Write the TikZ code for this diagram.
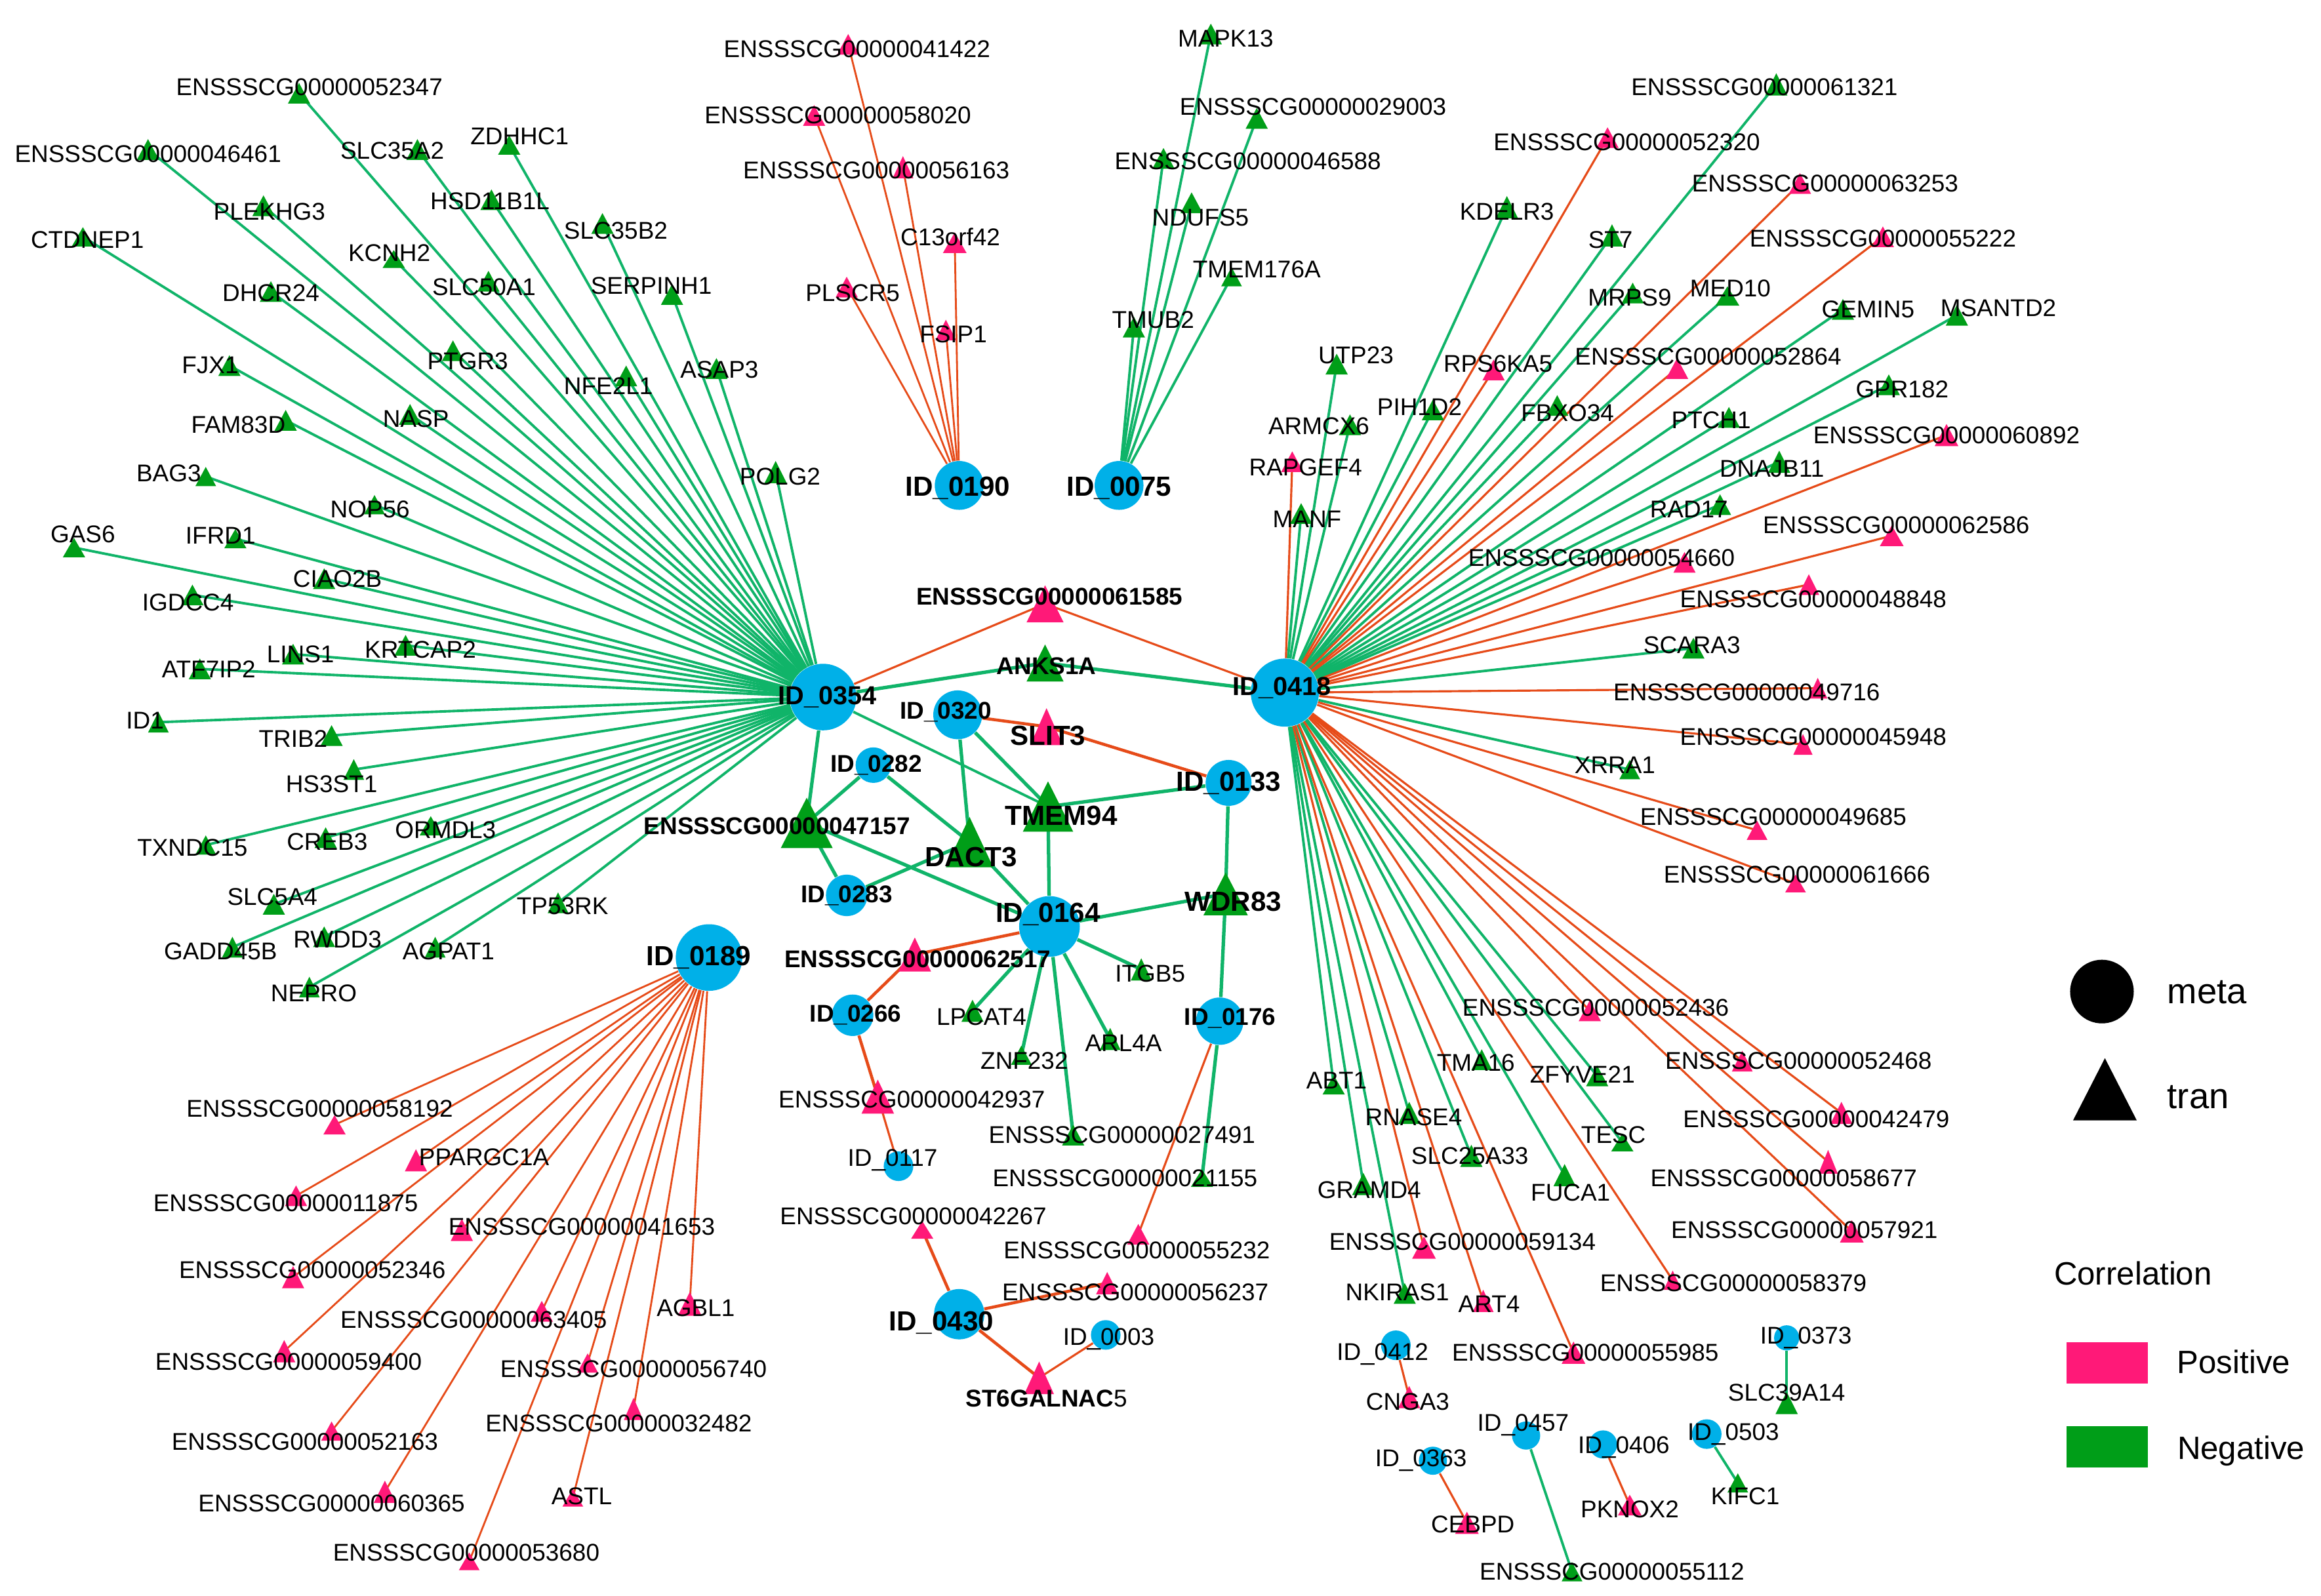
\documentclass[tikz,border=0pt]{standalone}
\usepackage{fontspec}
\setmainfont{Liberation Sans}
\pgfdeclarelayer{bg}
\pgfdeclarelayer{edges}
\pgfdeclarelayer{labels}
\pgfsetlayers{bg,edges,main,labels}
\definecolor{tg}{RGB}{0,158,24}
\definecolor{tp}{RGB}{255,25,120}
\definecolor{eg}{RGB}{16,180,105}
\definecolor{er}{RGB}{230,75,25}
\definecolor{mb}{RGB}{0,176,232}
\newcommand\myunit{0.02257cm}
\newcommand\myBigB{\fontsize{12}{14}\selectfont\bfseries}
\newcommand\myHubB{\fontsize{11.3}{13}\selectfont\bfseries}
\newcommand\myMidB{\fontsize{10.5}{12}\selectfont\bfseries}
% triangle node: name, x, y, w, h, colour, label x, label y, text
\newcommand\T[9]{%
  \coordinate (#1) at (#2,#3);
  \fill[#6] ({#2-#4/2},{#3+#5/2}) -- ({#2+#4/2},{#3+#5/2}) -- ({#2},{#3-#5/2}) -- cycle;
  \begin{pgfonlayer}{labels}\node[lab] (#1-l) at (#7,#8) {#9};\end{pgfonlayer}}
% metabolite node: name, x, y, diameter, label x, label y, text
\newcommand\M[7]{%
  \node[metaN, minimum size={#4*\myunit}] (#1) at (#2,#3) {};
  \begin{pgfonlayer}{labels}\node[lab] (#1-l) at (#5,#6) {#7};\end{pgfonlayer}}
\begin{document}
\begin{tikzpicture}[x=0.02257cm, y=-0.02257cm,
  lab/.style={font=\fontsize{10.5}{12}\selectfont, inner sep=0pt},
  metaN/.style={circle, fill=mb, inner sep=0pt},
  gE/.style={draw=eg, line width=1.1pt},
  rE/.style={draw=er, line width=0.9pt},
  gEt/.style={draw=eg, line width=1.5pt},
  rEt/.style={draw=er, line width=1.3pt},
  legtxt/.style={font=\fontsize{14}{16}\selectfont, inner sep=0pt, anchor=base},
  legtxtb/.style={font=\fontsize{15.5}{17}\selectfont, inner sep=0pt, anchor=base}]
\useasboundingbox (0,0) rectangle (1568,1078);
\begin{pgfonlayer}{bg}
\fill[white] (0,0) rectangle (1568,1078);
\end{pgfonlayer}

% ---------- metabolites ----------
\M{m354}{556}{471}{45}{559}{471}{\myHubB ID\_0354}
\M{m418}{868}{468}{46}{866}{465}{\myHubB ID\_0418}
\M{m189}{479}{647}{45}{472}{647}{\myBigB ID\_0189}
\M{m190}{648}{328}{33}{647}{330}{\myBigB ID\_0190}
\M{m075}{756}{328}{33}{756}{330}{\myBigB ID\_0075}
\M{m320}{647}{483}{33}{639}{481}{\myMidB ID\_0320}
\M{m282}{590}{517}{24}{592}{517}{\myMidB ID\_0282}
\M{m283}{572}{605}{28}{572}{605}{\myMidB ID\_0283}
\M{m164}{709}{626}{41}{708}{618}{\myBigB ID\_0164}
\M{m133}{830}{529}{31}{830}{529}{\myBigB ID\_0133}
\M{m176}{824}{690}{32}{831}{688}{\myMidB ID\_0176}
\M{m266}{576}{686}{28}{578}{686}{\myMidB ID\_0266}
\M{m117}{607}{788}{20}{603}{784}{ID\_0117}
\M{m430}{648}{888}{34}{636}{894}{\myBigB ID\_0430}
\M{m003}{747}{902}{20}{749}{905}{ID\_0003}
\M{m412}{943}{909}{20}{934}{915}{ID\_0412}
\M{m457}{1031}{970}{19}{1029}{963}{ID\_0457}
\M{m406}{1083}{976}{19}{1097}{978}{ID\_0406}
\M{m363}{968}{987}{19}{960}{987}{ID\_0363}
\M{m373}{1207}{904}{17}{1220}{904}{ID\_0373}
\M{m503}{1153}{969}{20}{1171}{969}{ID\_0503}

% ---------- ID_0354 targets ----------
\T{e52347}{202}{63}{15}{14}{tg}{209}{59}{ENSSSCG00000052347}
\T{e46461}{100}{101}{15}{14}{tg}{100}{104}{ENSSSCG00000046461}
\T{slc35a2}{282}{101}{15}{14}{tg}{265}{102}{SLC35A2}
\T{zdhhc1}{344}{98}{15}{13}{tg}{351}{92}{ZDHHC1}
\T{plekhg3}{178}{139}{15}{14}{tg}{182}{143}{PLEKHG3}
\T{hsd11b1l}{332}{135}{15}{14}{tg}{331}{136}{HSD11B1L}
\T{ctdnep1}{56}{160}{15}{13}{tg}{59}{162}{CTDNEP1}
\T{kcnh2}{266}{175}{15}{12}{tg}{263}{171}{KCNH2}
\T{slc50a1}{330}{190}{15}{14}{tg}{327}{194}{SLC50A1}
\T{dhcr24}{183}{197}{15}{14}{tg}{183}{198}{DHCR24}
\T{fjx1}{155}{247}{15}{14}{tg}{142}{247}{FJX1}
\T{ptgr3}{306}{237}{15}{14}{tg}{316}{244}{PTGR3}
\T{fam83d}{193}{284}{15}{14}{tg}{161}{287}{FAM83D}
\T{nasp}{277}{280}{15}{14}{tg}{281}{283}{NASP}
\T{bag3}{139}{322}{14}{13}{tg}{114}{320}{BAG3}
\T{nop56}{253}{341}{14}{13}{tg}{250}{344}{NOP56}
\T{gas6}{50}{370}{15}{13}{tg}{56}{361}{GAS6}
\T{ifrd1}{159}{364}{15}{13}{tg}{149}{362}{IFRD1}
\T{ciao2b}{219}{391}{15}{14}{tg}{228}{391}{CIAO2B}
\T{igdcc4}{130}{402}{15}{14}{tg}{127}{407}{IGDCC4}
\T{krtcap2}{274}{436}{15}{14}{tg}{284}{439}{KRTCAP2}
\T{lins1}{198}{442}{15}{14}{tg}{203}{442}{LINS1}
\T{atf7ip2}{135}{452}{15}{14}{tg}{141}{452}{ATF7IP2}
\T{id1}{107}{488}{14}{14}{tg}{98}{487}{ID1}
\T{trib2}{224}{497}{15}{14}{tg}{198}{499}{TRIB2}
\T{hs3st1}{239}{520}{14}{14}{tg}{224}{530}{HS3ST1}
\T{ormdl3}{291}{558}{15}{13}{tg}{301}{561}{ORMDL3}
\T{txndc15}{139}{571}{14}{13}{tg}{130}{573}{TXNDC15}
\T{creb3}{220}{566}{15}{14}{tg}{221}{569}{CREB3}
\T{slc5a4}{185}{611}{15}{14}{tg}{184}{606}{SLC5A4}
\T{tp53rk}{377}{610}{14}{14}{tg}{380}{612}{TP53RK}
\T{gadd45b}{157}{640}{14}{14}{tg}{149}{643}{GADD45B}
\T{rwdd3}{219}{633}{15}{14}{tg}{228}{635}{RWDD3}
\T{agpat1}{294}{640}{14}{14}{tg}{303}{643}{AGPAT1}
\T{nepro}{209}{667}{14}{14}{tg}{212}{671}{NEPRO}
\T{slc35b2}{407}{151}{15}{14}{tg}{416}{156}{SLC35B2}
\T{serpinh1}{454}{199}{15}{14}{tg}{440}{193}{SERPINH1}
\T{asap3}{484}{249}{15}{14}{tg}{486}{250}{ASAP3}
\T{nfe2l1}{423}{254}{15}{14}{tg}{411}{261}{NFE2L1}
\T{polg2}{524}{319}{15}{15}{tg}{527}{322}{POLG2}

% ---------- ID_0190 targets ----------
\T{e41422}{573}{30}{15}{14}{tp}{579}{33}{ENSSSCG00000041422}
\T{e58020}{550}{78}{15}{14}{tp}{566}{78}{ENSSSCG00000058020}
\T{e56163}{610}{113}{14}{15}{tp}{592}{115}{ENSSSCG00000056163}
\T{c13orf42}{645}{164}{16}{14}{tp}{642}{160}{C13orf42}
\T{plscr5}{572}{194}{15}{14}{tp}{576}{198}{PLSCR5}
\T{fsip1}{639}{223}{14}{14}{tp}{644}{226}{FSIP1}

% ---------- ID_0075 targets ----------
\T{mapk13}{818}{23}{15}{14}{tg}{828}{26}{MAPK13}
\T{e29003}{849}{80}{15}{14}{tg}{887}{72}{ENSSSCG00000029003}
\T{e46588}{786}{107}{15}{14}{tg}{843}{109}{ENSSSCG00000046588}
\T{ndufs5}{805}{137}{15}{14}{tg}{811}{147}{NDUFS5}
\T{tmem176a}{832}{187}{14}{13}{tg}{849}{182}{TMEM176A}
\T{tmub2}{766}{221}{15}{14}{tg}{779}{216}{TMUB2}

% ---------- ID_0418 targets (upper) ----------
\T{e52320}{1086}{93}{15}{14}{tp}{1099}{96}{ENSSSCG00000052320}
\T{kdelr3}{1018}{140}{15}{15}{tg}{1018}{143}{KDELR3}
\T{st7}{1089}{159}{15}{15}{tg}{1088}{162}{ST7}
\T{e61321}{1200}{57}{15}{15}{tg}{1192}{59}{ENSSSCG00000061321}
\T{e63253}{1216}{124}{15}{14}{tp}{1233}{124}{ENSSSCG00000063253}
\T{e55222}{1272}{160}{15}{14}{tp}{1272}{161}{ENSSSCG00000055222}
\T{mrps9}{1103}{198}{15}{14}{tg}{1101}{201}{MRPS9}
\T{med10}{1167}{200}{16}{13}{tg}{1169}{195}{MED10}
\T{gemin5}{1245}{209}{15}{14}{tg}{1262}{209}{GEMIN5}
\T{msantd2}{1322}{213}{15}{14}{tg}{1350}{208}{MSANTD2}
\T{utp23}{903}{246}{15}{14}{tg}{916}{240}{UTP23}
\T{rps6ka5}{1009}{250}{15}{14}{tp}{1012}{246}{RPS6KA5}
\T{e52864}{1133}{249}{15}{14}{tp}{1154}{241}{ENSSSCG00000052864}
\T{pih1d2}{968}{277}{15}{14}{tg}{959}{275}{PIH1D2}
\T{fbxo34}{1052}{274}{15}{14}{tg}{1059}{279}{FBXO34}
\T{armcx6}{912}{287}{15}{14}{tg}{891}{288}{ARMCX6}
\T{ptch1}{1168}{282}{15}{14}{tg}{1156}{284}{PTCH1}
\T{gpr182}{1276}{260}{15}{14}{tg}{1285}{263}{GPR182}
\T{e60892}{1315}{294}{16}{15}{tp}{1315}{294}{ENSSSCG00000060892}
\T{dnajb11}{1202}{312}{15}{15}{tg}{1197}{317}{DNAJB11}
\T{rapgef4}{873}{312}{15}{14}{tp}{882}{316}{RAPGEF4}
\T{manf}{879}{347}{15}{14}{tg}{883}{351}{MANF}
\T{rad17}{1162}{341}{15}{14}{tg}{1141}{344}{RAD17}
\T{e62586}{1278}{362}{16}{14}{tp}{1281}{355}{ENSSSCG00000062586}
\T{e54660}{1138}{380}{15}{14}{tp}{1082}{377}{ENSSSCG00000054660}
\T{e48848}{1222}{395}{14}{14}{tp}{1225}{405}{ENSSSCG00000048848}
\T{scara3}{1144}{438}{15}{14}{tg}{1143}{436}{SCARA3}
\T{e49716}{1228}{465}{13}{14}{tp}{1180}{468}{ENSSSCG00000049716}
\T{e45948}{1218}{503}{13}{14}{tp}{1225}{498}{ENSSSCG00000045948}
\T{xrra1}{1101}{520}{14}{13}{tg}{1091}{517}{XRRA1}
\T{e49685}{1187}{561}{14}{13}{tp}{1198}{552}{ENSSSCG00000049685}
\T{e61666}{1213}{597}{14}{12}{tp}{1214}{591}{ENSSSCG00000061666}

% ---------- ID_0418 targets (lower) ----------
\T{e52436}{1074}{683}{15}{14}{tp}{1078}{681}{ENSSSCG00000052436}
\T{tma16}{1001}{716}{14}{14}{tg}{997}{718}{TMA16}
\T{e52468}{1177}{717}{14}{14}{tp}{1215}{717}{ENSSSCG00000052468}
\T{e42479}{1244}{752}{15}{15}{tp}{1227}{756}{ENSSSCG00000042479}
\T{e58677}{1235}{785}{13}{16}{tp}{1205}{796}{ENSSSCG00000058677}
\T{e57921}{1251}{832}{16}{15}{tp}{1219}{831}{ENSSSCG00000057921}
\T{e58379}{1130}{865}{12}{13}{tp}{1171}{867}{ENSSSCG00000058379}
\T{abt1}{901}{733}{15}{13}{tg}{903}{730}{ABT1}
\T{zfyve21}{1079}{727}{15}{14}{tg}{1069}{726}{ZFYVE21}
\T{rnase4}{952}{752}{15}{15}{tg}{955}{755}{RNASE4}
\T{tesc}{1096}{772}{15}{12}{tg}{1090}{767}{TESC}
\T{slc25a33}{994}{781}{15}{15}{tg}{993}{781}{SLC25A33}
\T{gramd4}{921}{800}{15}{15}{tg}{925}{804}{GRAMD4}
\T{fuca1}{1057}{794}{15}{15}{tg}{1061}{806}{FUCA1}
\T{e59134}{962}{843}{16}{15}{tp}{988}{839}{ENSSSCG00000059134}
\T{nkiras1}{949}{874}{15}{14}{tg}{944}{873}{NKIRAS1}
\T{art4}{1002}{879}{14}{15}{tp}{1006}{881}{ART4}
\T{e55985}{1063}{914}{16}{15}{tp}{1071}{914}{ENSSSCG00000055985}

% ---------- small components ----------
\T{cnga3}{952}{944}{15}{15}{tp}{951}{947}{CNGA3}
\T{pknox2}{1101}{1017}{16}{14}{tp}{1101}{1020}{PKNOX2}
\T{cebpd}{991}{1029}{16}{15}{tp}{995}{1030}{CEBPD}
\T{e55112}{1062}{1062}{14}{13}{tg}{1089}{1062}{ENSSSCG00000055112}
\T{slc39a14}{1207}{948}{15}{15}{tg}{1207}{941}{SLC39A14}
\T{kifc1}{1174}{1002}{14}{13}{tg}{1179}{1011}{KIFC1}

% ---------- ID_0189 targets ----------
\T{e58192}{226}{760}{15}{13}{tp}{216}{749}{ENSSSCG00000058192}
\T{ppargc1a}{281}{784}{15}{15}{tp}{327}{782}{PPARGC1A}
\T{e11875}{200}{808}{15}{14}{tp}{193}{813}{ENSSSCG00000011875}
\T{e41653}{312}{831}{15}{15}{tp}{393}{829}{ENSSSCG00000041653}
\T{e52346}{198}{863}{15}{15}{tp}{211}{858}{ENSSSCG00000052346}
\T{e63405}{366}{886}{15}{14}{tp}{320}{892}{ENSSSCG00000063405}
\T{e59400}{192}{913}{15}{15}{tp}{195}{920}{ENSSSCG00000059400}
\T{agbl1}{466}{881}{16}{16}{tp}{470}{884}{AGBL1}
\T{e56740}{397}{921}{14}{13}{tp}{428}{925}{ENSSSCG00000056740}
\T{e32482}{428}{952}{13}{15}{tp}{418}{962}{ENSSSCG00000032482}
\T{e52163}{224}{967}{14}{13}{tp}{206}{974}{ENSSSCG00000052163}
\T{astl}{387}{1012}{14}{12}{tp}{393}{1011}{ASTL}
\T{e60365}{260}{1008}{15}{15}{tp}{224}{1016}{ENSSSCG00000060365}
\T{e53680}{317}{1055}{14}{12}{tp}{315}{1049}{ENSSSCG00000053680}

% ---------- central cluster ----------
\T{e61585}{706}{408}{25}{25}{tp}{709}{403}{\myMidB ENSSSCG00000061585}
\T{anks1a}{706}{448}{25}{25}{tg}{707}{450}{\myMidB ANKS1A}
\T{slit3}{707}{491}{22}{25}{tp}{708}{497}{\myBigB SLIT3}
\T{e47157}{545}{556}{35}{34}{tg}{525}{558}{\myMidB ENSSSCG00000047157}
\T{tmem94}{708}{545}{34}{34}{tg}{717}{551}{\myBigB TMEM94}
\T{dact3}{655}{569}{32}{34}{tg}{656}{579}{\myBigB DACT3}
\T{wdr83}{828}{604}{30}{29}{tg}{833}{609}{\myBigB WDR83}
\T{e62517}{618}{645}{22}{23}{tp}{620}{648}{\myMidB ENSSSCG00000062517}
\T{lpcat4}{657}{683}{15}{15}{tg}{663}{687}{LPCAT4}
\T{itgb5}{771}{655}{14}{15}{tg}{777}{658}{ITGB5}
\T{arl4a}{750}{702}{14}{15}{tg}{759}{705}{ARL4A}
\T{znf232}{690}{713}{14}{13}{tg}{692}{717}{ZNF232}
\T{e42937}{593}{741}{22}{23}{tp}{616}{743}{ENSSSCG00000042937}
\T{e27491}{725}{767}{15}{14}{tg}{758}{767}{ENSSSCG00000027491}
\T{e21155}{812}{796}{15}{12}{tg}{760}{796}{ENSSSCG00000021155}
\T{e42267}{623}{831}{15}{12}{tp}{617}{822}{ENSSSCG00000042267}
\T{e55232}{769}{834}{15}{14}{tp}{768}{845}{ENSSSCG00000055232}
\T{e56237}{748}{867}{15}{15}{tp}{767}{873}{ENSSSCG00000056237}
\T{st6}{702}{931}{20}{22}{tp}{707}{945}{{\myMidB ST6GALNAC}5}

% ---------- edges ----------
\begin{pgfonlayer}{edges}
\foreach \t in {e52347,e46461,slc35a2,zdhhc1,plekhg3,hsd11b1l,ctdnep1,kcnh2,slc50a1,dhcr24,fjx1,ptgr3,fam83d,nasp,bag3,nop56,gas6,ifrd1,ciao2b,igdcc4,krtcap2,lins1,atf7ip2,id1,trib2,hs3st1,ormdl3,txndc15,creb3,slc5a4,tp53rk,gadd45b,rwdd3,agpat1,nepro,slc35b2,serpinh1,asap3,nfe2l1,polg2}
  \draw[gE] (m354) -- (\t);
\draw[gEt] (m354) -- (anks1a);
\draw[gEt] (m354) -- (e47157);
\draw[gE] (m354) -- (tmem94);
\draw[rE] (m354) -- (e61585);
\foreach \t in {anks1a,manf,utp23,armcx6,pih1d2,kdelr3,st7,e61321,mrps9,fbxo34,med10,gemin5,msantd2,ptch1,gpr182,dnajb11,rad17,scara3,xrra1,zfyve21,tesc,tma16,fuca1,slc25a33,rnase4,abt1,gramd4,nkiras1}
  \draw[gE] (m418) -- (\t);
\foreach \t in {e61585,rapgef4,e52320,rps6ka5,e63253,e55222,e52864,e60892,e54660,e62586,e48848,e49716,e45948,e49685,e61666,e52436,e52468,e42479,e58677,e57921,e58379,e59134,art4,e55985}
  \draw[rE] (m418) -- (\t);
\foreach \t in {e58192,ppargc1a,e11875,e41653,e52346,e63405,e59400,agbl1,e56740,e32482,e52163,astl,e60365,e53680}
  \draw[rE, line width=0.8pt] (m189) -- (\t);
\foreach \t in {e41422,e58020,e56163,c13orf42,plscr5,fsip1}
  \draw[rE, line width=0.8pt] (m190) -- (\t);
\foreach \t in {mapk13,e29003,e46588,ndufs5,tmem176a,tmub2}
  \draw[gE] (m075) -- (\t);
\draw[gEt] (m282) -- (e47157);
\draw[gEt] (m282) -- (dact3);
\draw[gEt] (m283) -- (e47157);
\draw[gEt] (m283) -- (dact3);
\draw[gEt] (m320) -- (dact3);
\draw[gEt] (m320) -- (tmem94);
\draw[gEt] (e47157) -- (m164);
\draw[gEt] (dact3) -- (m164);
\draw[gEt] (tmem94) -- (m164);
\draw[gEt] (tmem94) -- (m133);
\draw[gEt] (m133) -- (wdr83);
\draw[gEt] (m164) -- (wdr83);
\draw[gEt] (wdr83) -- (m176);
\draw[gEt] (m164) -- (itgb5);
\draw[gEt] (m164) -- (lpcat4);
\draw[gEt] (m164) -- (znf232);
\draw[gEt] (m164) -- (e27491);
\draw[gEt] (m164) -- (arl4a);
\draw[gEt] (m176) -- (e21155);
\draw[gEt] (m418) -- (anks1a);
\draw[rEt] (m320) -- (slit3);
\draw[rEt] (slit3) -- (m133);
\draw[rEt] (m164) -- (e62517);
\draw[rEt] (e62517) -- (m266);
\draw[rEt] (m266) -- (e42937);
\draw[rE] (e42937) -- (m117);
\draw[rE] (m176) -- (e55232);
\draw[rEt] (m430) -- (e42267);
\draw[rEt] (m430) -- (e56237);
\draw[rEt] (m430) -- (st6);
\draw[rE] (m003) -- (st6);
\draw[rE] (m412) -- (cnga3);
\draw[rE] (m363) -- (cebpd);
\draw[gE] (m457) -- (e55112);
\draw[rE] (m406) -- (pknox2);
\draw[gE] (m503) -- (kifc1);
\draw[gE] (m373) -- (slc39a14);
\end{pgfonlayer}

% ---------- legend ----------
\node[circle, fill=black, inner sep=0pt, minimum size={43*\myunit}] (legmeta) at (1420,670) {};
\node[legtxtb] (legmetat) at (1491,678) {meta};
\coordinate (legtran) at (1422,736);
\fill[black] (1400.5,757) -- (1443.5,757) -- (1422,715) -- cycle;
\node[legtxtb] (legtrant) at (1485,749) {tran};
\node[legtxt] (legcorr) at (1441,868) {Correlation};
\node[rectangle, fill=tp, inner sep=0pt, minimum width={55*\myunit}, minimum height={28*\myunit}] (legpos) at (1423.5,921) {};
\node[legtxt] (legpost) at (1509,928) {Positive};
\node[rectangle, fill=tg, inner sep=0pt, minimum width={55*\myunit}, minimum height={28*\myunit}] (legneg) at (1423.5,977.5) {};
\node[legtxt] (legnegt) at (1514,986) {Negative};
\end{tikzpicture}
\end{document}
